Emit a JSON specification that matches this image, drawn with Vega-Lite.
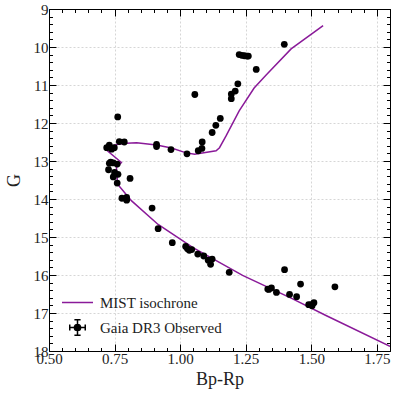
{
  "$schema": "https://vega.github.io/schema/vega-lite/v6.json",
  "width": 341,
  "height": 342,
  "autosize": {"type": "none"},
  "padding": {"left": 49, "top": 9, "right": 9, "bottom": 48},
  "background": "white",
  "config": {
    "font": "Liberation Serif",
    "view": {"stroke": "black", "strokeWidth": 1},
    "axis": {
      "labelFont": "Liberation Serif",
      "titleFont": "Liberation Serif",
      "labelFontSize": 15,
      "titleFontSize": 18,
      "titleFontWeight": "normal",
      "labelColor": "#222",
      "titleColor": "#222",
      "domainColor": "black",
      "tickColor": "black",
      "gridDash": [2, 2],
      "gridWidth": 1
    },
    "legend": {
      "labelFont": "Liberation Serif",
      "labelFontSize": 15,
      "labelColor": "#222"
    }
  },
  "datasets": {
    "iso": [
      {"i": 1, "bprp": 1.545, "G": 9.44},
      {"i": 2, "bprp": 1.423, "G": 10.05},
      {"i": 3, "bprp": 1.326, "G": 10.75},
      {"i": 4, "bprp": 1.282, "G": 11.08},
      {"i": 5, "bprp": 1.225, "G": 11.68},
      {"i": 6, "bprp": 1.175, "G": 12.34},
      {"i": 7, "bprp": 1.150, "G": 12.65},
      {"i": 8, "bprp": 1.137, "G": 12.73},
      {"i": 9, "bprp": 1.055, "G": 12.82},
      {"i": 10, "bprp": 1.020, "G": 12.78},
      {"i": 11, "bprp": 0.967, "G": 12.66},
      {"i": 12, "bprp": 0.910, "G": 12.58},
      {"i": 13, "bprp": 0.834, "G": 12.52},
      {"i": 14, "bprp": 0.796, "G": 12.53},
      {"i": 15, "bprp": 0.764, "G": 12.56},
      {"i": 16, "bprp": 0.733, "G": 12.62},
      {"i": 17, "bprp": 0.717, "G": 12.70},
      {"i": 18, "bprp": 0.776, "G": 13.04},
      {"i": 19, "bprp": 0.757, "G": 13.17},
      {"i": 20, "bprp": 0.760, "G": 13.40},
      {"i": 21, "bprp": 0.760, "G": 13.60},
      {"i": 22, "bprp": 0.815, "G": 14.05},
      {"i": 23, "bprp": 0.916, "G": 14.67},
      {"i": 24, "bprp": 1.049, "G": 15.28},
      {"i": 25, "bprp": 1.238, "G": 16.01},
      {"i": 26, "bprp": 1.427, "G": 16.62},
      {"i": 27, "bprp": 1.554, "G": 17.06},
      {"i": 28, "bprp": 1.800, "G": 17.88}
    ],
    "obs": [
      {"bprp": 1.397, "G": 9.93},
      {"bprp": 1.225, "G": 10.20},
      {"bprp": 1.235, "G": 10.22},
      {"bprp": 1.245, "G": 10.23},
      {"bprp": 1.255, "G": 10.24},
      {"bprp": 1.260, "G": 10.24},
      {"bprp": 1.290, "G": 10.59},
      {"bprp": 1.220, "G": 10.97},
      {"bprp": 1.210, "G": 11.16},
      {"bprp": 1.195, "G": 11.24},
      {"bprp": 1.195, "G": 11.36},
      {"bprp": 1.056, "G": 11.25},
      {"bprp": 1.153, "G": 11.88},
      {"bprp": 1.136, "G": 12.06},
      {"bprp": 1.122, "G": 12.25},
      {"bprp": 1.084, "G": 12.50},
      {"bprp": 1.083, "G": 12.67},
      {"bprp": 1.069, "G": 12.73},
      {"bprp": 1.026, "G": 12.81},
      {"bprp": 0.965, "G": 12.70},
      {"bprp": 0.910, "G": 12.56},
      {"bprp": 0.910, "G": 12.62},
      {"bprp": 0.787, "G": 12.50},
      {"bprp": 0.768, "G": 12.49},
      {"bprp": 0.762, "G": 11.84},
      {"bprp": 0.730, "G": 12.58},
      {"bprp": 0.720, "G": 12.65},
      {"bprp": 0.739, "G": 12.69},
      {"bprp": 0.749, "G": 12.65},
      {"bprp": 0.735, "G": 13.03},
      {"bprp": 0.745, "G": 13.05},
      {"bprp": 0.760, "G": 13.08},
      {"bprp": 0.730, "G": 13.06},
      {"bprp": 0.727, "G": 13.23},
      {"bprp": 0.750, "G": 13.30},
      {"bprp": 0.763, "G": 13.35},
      {"bprp": 0.745, "G": 13.42},
      {"bprp": 0.760, "G": 13.58},
      {"bprp": 0.809, "G": 13.46},
      {"bprp": 0.778, "G": 13.98},
      {"bprp": 0.796, "G": 13.96},
      {"bprp": 0.796, "G": 14.03},
      {"bprp": 0.893, "G": 14.24},
      {"bprp": 0.916, "G": 14.78},
      {"bprp": 0.970, "G": 15.15},
      {"bprp": 1.021, "G": 15.25},
      {"bprp": 1.028, "G": 15.31},
      {"bprp": 1.044, "G": 15.33},
      {"bprp": 1.035, "G": 15.35},
      {"bprp": 1.067, "G": 15.45},
      {"bprp": 1.090, "G": 15.50},
      {"bprp": 1.107, "G": 15.61},
      {"bprp": 1.122, "G": 15.58},
      {"bprp": 1.116, "G": 15.72},
      {"bprp": 1.187, "G": 15.93},
      {"bprp": 1.334, "G": 16.37},
      {"bprp": 1.348, "G": 16.34},
      {"bprp": 1.338, "G": 16.38},
      {"bprp": 1.367, "G": 16.46},
      {"bprp": 1.398, "G": 15.86},
      {"bprp": 1.417, "G": 16.51},
      {"bprp": 1.444, "G": 16.57},
      {"bprp": 1.459, "G": 16.24},
      {"bprp": 1.490, "G": 16.78},
      {"bprp": 1.503, "G": 16.81},
      {"bprp": 1.510, "G": 16.73},
      {"bprp": 1.500, "G": 16.78},
      {"bprp": 1.590, "G": 16.31}
    ]
  },
  "resolve": {"axis": {"x": "independent", "y": "independent"}},
  "layer": [
    {
      "data": {"name": "iso"},
      "transform": [{"calculate": "'MIST isochrone'", "as": "series"}],
      "mark": {"type": "line", "strokeWidth": 1.5, "clip": true},
      "encoding": {
        "x": {
          "field": "bprp", "type": "quantitative",
          "scale": {"domain": [0.5, 1.8], "nice": false, "zero": false},
          "axis": {
            "orient": "bottom",
            "title": "Bp-Rp",
            "titlePadding": 4,
            "values": [0.5,0.55,0.6,0.65,0.7,0.75,0.8,0.85,0.9,0.95,1.0,1.05,1.1,1.15,1.2,1.25,1.3,1.35,1.4,1.45,1.5,1.55,1.6,1.65,1.7,1.75,1.8],
            "labelExpr": "abs(datum.value*4 - round(datum.value*4)) < 0.01 ? format(datum.value, '.2f') : ''",
            "tickSize": {"condition": {"test": "abs(datum.value*4 - round(datum.value*4)) < 0.01", "value": -7}, "value": -3.5},
            "gridColor": {"condition": {"test": "abs(datum.value*4 - round(datum.value*4)) < 0.01", "value": "#d6d6d6"}, "value": "transparent"},
            "grid": true,
            "labelPadding": 7,
            "labelFlush": false
          }
        },
        "y": {
          "field": "G", "type": "quantitative",
          "scale": {"domain": [9, 18], "nice": false, "zero": false, "reverse": true},
          "axis": {
            "orient": "left",
            "title": "G",
            "titlePadding": 10,
            "values": [9,9.2,9.4,9.6,9.8,10,10.2,10.4,10.6,10.8,11,11.2,11.4,11.6,11.8,12,12.2,12.4,12.6,12.8,13,13.2,13.4,13.6,13.8,14,14.2,14.4,14.6,14.8,15,15.2,15.4,15.6,15.8,16,16.2,16.4,16.6,16.8,17,17.2,17.4,17.6,17.8,18],
            "labelExpr": "abs(datum.value - round(datum.value)) < 0.01 ? format(datum.value, 'd') : ''",
            "tickSize": {"condition": {"test": "abs(datum.value - round(datum.value)) < 0.01", "value": -7}, "value": -3.5},
            "gridColor": {"condition": {"test": "abs(datum.value - round(datum.value)) < 0.01", "value": "#d6d6d6"}, "value": "transparent"},
            "grid": true,
            "labelPadding": 8,
            "labelFlush": false
          }
        },
        "order": {"field": "i", "type": "quantitative"},
        "color": {
          "field": "series", "type": "nominal",
          "scale": {"domain": ["MIST isochrone", "Gaia DR3 Observed"], "range": ["#8a1a99", "black"]},
          "legend": {
            "title": null,
            "orient": "bottom-left",
            "offset": 12,
            "padding": 0,
            "rowPadding": -2,
            "symbolSize": 961,
            "labelOffset": 6,
            "encode": {
              "symbols": {
                "update": {
                  "shape": {"signal": "datum.value === 'MIST isochrone' ? 'stroke' : 'M-0.5,0H0.5M0,-0.5V0.5M-0.5,-0.2V0.2M0.5,-0.2V0.2M-0.2,-0.5H0.2M-0.2,0.5H0.2M0.2,0A0.2,0.2 0 1 1 -0.2,0A0.2,0.2 0 1 1 0.2,0Z'"},
                  "stroke": {"signal": "datum.value === 'MIST isochrone' ? '#8a1a99' : 'black'"},
                  "fill": {"signal": "datum.value === 'MIST isochrone' ? 'transparent' : 'black'"},
                  "strokeWidth": {"value": 1.5},
                  "opacity": {"value": 1}
                }
              }
            }
          }
        }
      }
    },
    {
      "data": {"name": "obs"},
      "transform": [{"calculate": "'Gaia DR3 Observed'", "as": "series"}],
      "mark": {"type": "point", "shape": "circle", "filled": true, "size": 46, "opacity": 1},
      "encoding": {
        "x": {
          "field": "bprp", "type": "quantitative",
          "axis": {
            "orient": "top",
            "title": null,
            "labels": false,
            "grid": false,
            "values": [0.5,0.55,0.6,0.65,0.7,0.75,0.8,0.85,0.9,0.95,1.0,1.05,1.1,1.15,1.2,1.25,1.3,1.35,1.4,1.45,1.5,1.55,1.6,1.65,1.7,1.75,1.8],
            "tickSize": {"condition": {"test": "abs(datum.value*4 - round(datum.value*4)) < 0.01", "value": -7}, "value": -3.5}
          }
        },
        "y": {
          "field": "G", "type": "quantitative",
          "axis": {
            "orient": "right",
            "title": null,
            "labels": false,
            "grid": false,
            "values": [9,9.2,9.4,9.6,9.8,10,10.2,10.4,10.6,10.8,11,11.2,11.4,11.6,11.8,12,12.2,12.4,12.6,12.8,13,13.2,13.4,13.6,13.8,14,14.2,14.4,14.6,14.8,15,15.2,15.4,15.6,15.8,16,16.2,16.4,16.6,16.8,17,17.2,17.4,17.6,17.8,18],
            "tickSize": {"condition": {"test": "abs(datum.value - round(datum.value)) < 0.01", "value": -7}, "value": -3.5}
          }
        },
        "color": {"field": "series", "type": "nominal"}
      }
    }
  ]
}
